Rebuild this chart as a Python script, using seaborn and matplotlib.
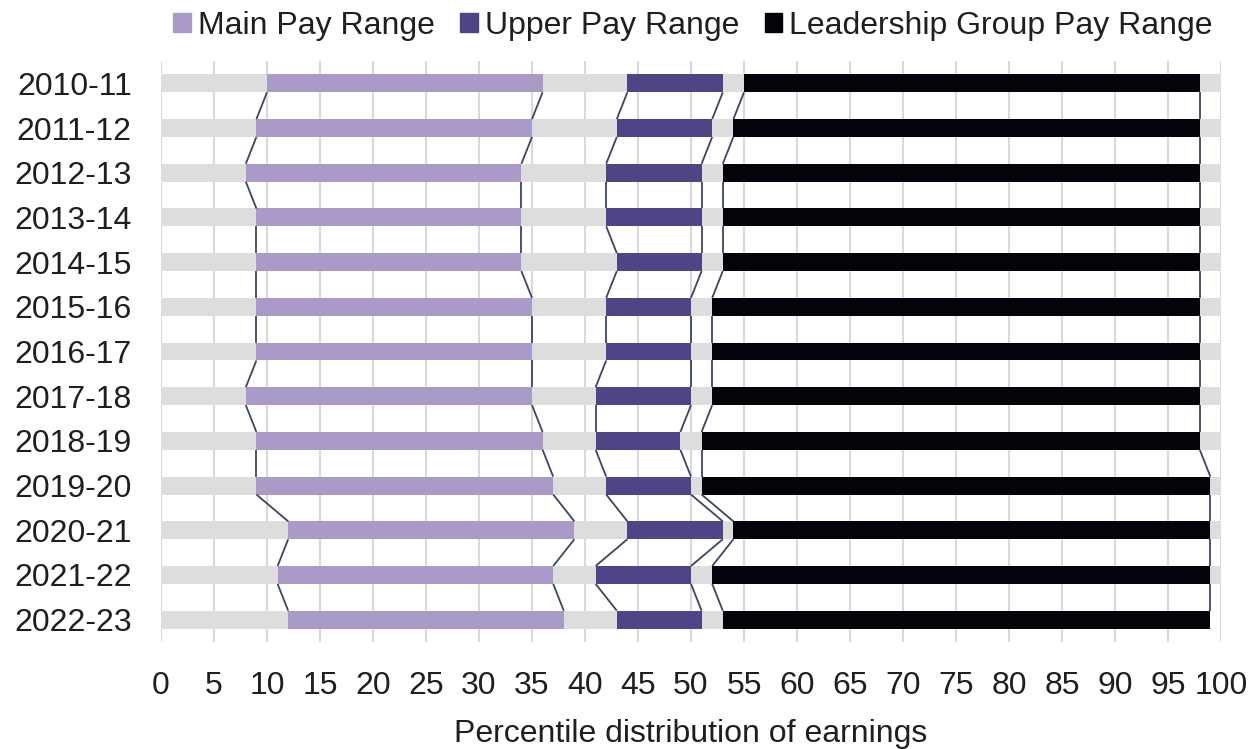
import matplotlib
matplotlib.use("Agg")
import matplotlib.pyplot as plt
from matplotlib.patches import Patch
import seaborn as sns

years = ["2010-11", "2011-12", "2012-13", "2013-14", "2014-15", "2015-16", "2016-17",
         "2017-18", "2018-19", "2019-20", "2020-21", "2021-22", "2022-23"]
main_start = [10, 9, 8, 9, 9, 9, 9, 8, 9, 9, 12, 11, 12]
main_end = [36, 35, 34, 34, 34, 35, 35, 35, 36, 37, 39, 37, 38]
upper_start = [44, 43, 42, 42, 43, 42, 42, 41, 41, 42, 44, 41, 43]
upper_end = [53, 52, 51, 51, 51, 50, 50, 50, 49, 50, 53, 50, 51]
lead_start = [55, 54, 53, 53, 53, 52, 52, 52, 51, 51, 54, 52, 53]
lead_end = [98, 98, 98, 98, 98, 98, 98, 98, 98, 99, 99, 99, 99]
total = [100, 100, 100, 100, 100, 100, 100, 100, 100, 100, 100, 100, 99]

c_main = "#a99ac8"
c_upper = "#4f4586"
c_lead = "#03040a"
c_gray = "#dcdddc"
c_line = "#3a4662"
c_text = "#1f1f1f"

sns.set_style("white")
plt.rcParams["font.family"] = ["Liberation Sans", "DejaVu Sans"]

fig = plt.figure(figsize=(12.6, 7.49), dpi=100)
ax = fig.add_axes([161 / 1260, 1 - 642 / 749, 1060 / 1260, 581 / 749])

# overlapping bars, longest first, so each row reads as a stack
layers = [(total, c_gray), (lead_end, c_lead), (lead_start, c_gray),
          (upper_end, c_upper), (upper_start, c_gray),
          (main_end, c_main), (main_start, c_gray)]
bh = 0.4
for vals, col in layers:
    sns.barplot(x=vals, y=years, color=col, width=bh, saturation=1,
                errorbar=None, linewidth=0, orient="h", ax=ax)

# series lines between the bars
for vals in [main_start, main_end, upper_start, upper_end, lead_start, lead_end]:
    for i in range(len(years) - 1):
        ax.plot([vals[i], vals[i + 1]], [i + bh / 2, i + 1 - bh / 2],
                color=c_line, lw=1.3, solid_capstyle="butt", zorder=3)

ax.set_xlim(0, 100)
ax.set_ylim(len(years) - 0.5, -0.5)
ax.set_xticks(range(0, 101, 5))
ax.grid(axis="x", color="#d9d9d9", lw=1.5)
ax.grid(axis="y", visible=False)
ax.set_axisbelow(True)
for s in ax.spines.values():
    s.set_visible(False)
ax.tick_params(axis="x", length=0, labelsize=23, pad=21, labelcolor=c_text)
ax.tick_params(axis="y", length=0, labelsize=23, pad=21, labelcolor=c_text)
ax.set_ylabel("")
ax.set_xlabel("Percentile distribution of earnings", fontsize=23, color=c_text, labelpad=12.5)

handles = [Patch(color=c_main, label="Main Pay Range"),
           Patch(color=c_upper, label="Upper Pay Range"),
           Patch(color=c_lead, label="Leadership Group Pay Range")]
leg = fig.legend(handles=handles, loc="center", bbox_to_anchor=(693 / 1260, 1 - 26 / 749),
                 ncol=3, frameon=False, fontsize=23, handlelength=0.55, handleheight=0.55,
                 handletextpad=0.22, columnspacing=0.8, borderaxespad=0)
for t in leg.get_texts():
    t.set_color(c_text)

fig.savefig("out.png", dpi=100)
